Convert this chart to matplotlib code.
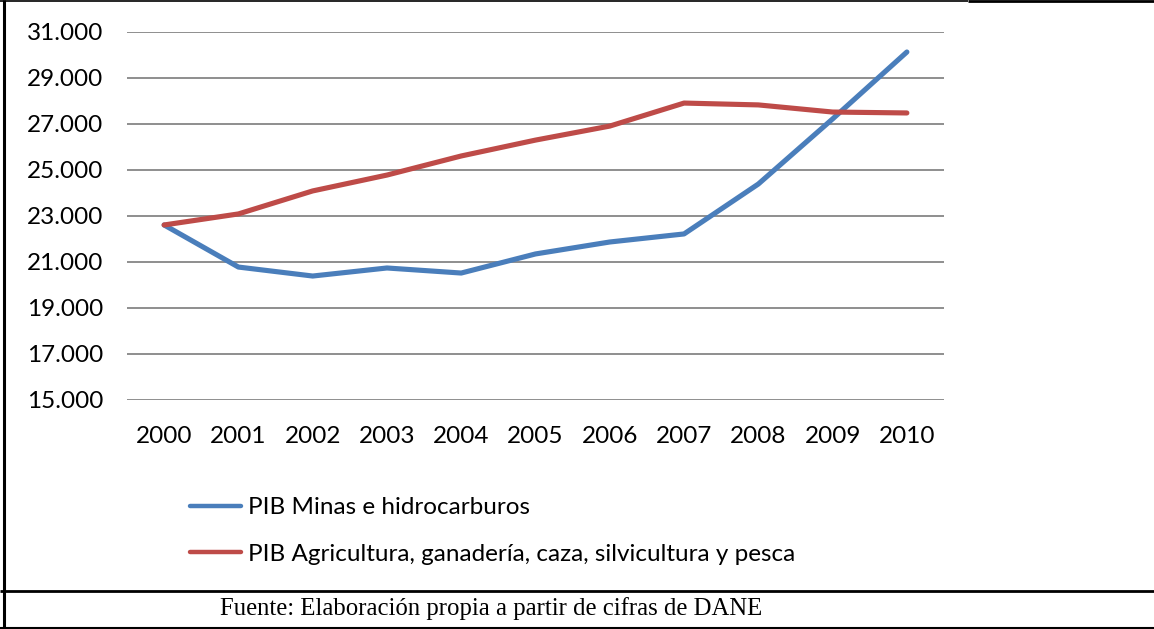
import matplotlib
matplotlib.use('Agg')
import matplotlib.pyplot as plt
from matplotlib.lines import Line2D
from matplotlib.ticker import FuncFormatter

years = ['2000', '2001', '2002', '2003', '2004', '2005', '2006', '2007', '2008', '2009', '2010']
minas = [22610, 20780, 20390, 20740, 20520, 21350, 21870, 22220, 24390, 27220, 30130]
agro = [22610, 23090, 24090, 24780, 25610, 26300, 26910, 27910, 27830, 27520, 27480]
yticks = [15000, 17000, 19000, 21000, 23000, 25000, 27000, 29000, 31000]

lab_minas = 'PIB Minas e hidrocarburos'
lab_agro = 'PIB Agricultura, ganadería, caza, silvicultura y pesca'
fuente = 'Fuente: Elaboración propia a partir de cifras de DANE'

W, H = 1154, 629
fs = 17.5
fig = plt.figure(figsize=(W / 100, H / 100), dpi=100)
fig.patch.set_facecolor('white')

ax = fig.add_axes([127 / W, 1 - 400 / H, (944 - 127) / W, (400 - 32) / H])
x = range(len(years))
ax.plot(x, minas, color='#4A7EBB', lw=3.7, solid_capstyle='round', solid_joinstyle='round', label=lab_minas, zorder=3)
ax.plot(x, agro, color='#BE4B48', lw=3.7, solid_capstyle='round', solid_joinstyle='round', label=lab_agro, zorder=3)

ax.set_xlim(-0.5, len(years) - 0.5)
ax.set_ylim(15000, 31000)
ax.set_yticks(yticks)
ax.yaxis.set_major_formatter(FuncFormatter(lambda v, p: '{:,.0f}'.format(v).replace(',', '.')))
ax.set_xticks(list(x))
ax.set_xticklabels(years)
ax.grid(axis='y', color='#868686', lw=1.3)
ax.set_axisbelow(True)
for s in ax.spines.values():
    s.set_visible(False)
ax.tick_params(axis='both', length=0, labelsize=fs, colors='black')
ax.tick_params(axis='y', pad=17)
ax.tick_params(axis='x', pad=18.5)
for t in ax.get_xticklabels() + ax.get_yticklabels():
    t.set_fontfamily('Lato')

leg = fig.legend(loc='upper left', bbox_to_anchor=(190 / W, 1 - 497 / H), frameon=False,
                 prop={'family': 'Lato', 'size': fs}, handlelength=2.1, handletextpad=0.3,
                 labelspacing=1.05, borderpad=0, borderaxespad=0)
for h in leg.get_lines():
    h.set_linewidth(3.2)
    h.set_solid_capstyle('round')

# marco de la figura
def fl(xs, ys, lw):
    fig.add_artist(Line2D([v / W for v in xs], [1 - v / H for v in ys], color='black', lw=lw,
                          transform=fig.transFigure, solid_capstyle='butt'))

fl([4, 4], [0, 629], 2.2)
fl([0, 968], [1, 1], 1.2)
fl([968, 1154], [1, 1], 2.0)
fl([0, 1154], [591, 591], 2.0)
fl([0, 1154], [627.5, 627.5], 1.5)

fig.text(491 / W, 1 - 609 / H, fuente, ha='center', va='center', family='Liberation Serif', fontsize=17.8)

fig.savefig('out.png', dpi=100)
